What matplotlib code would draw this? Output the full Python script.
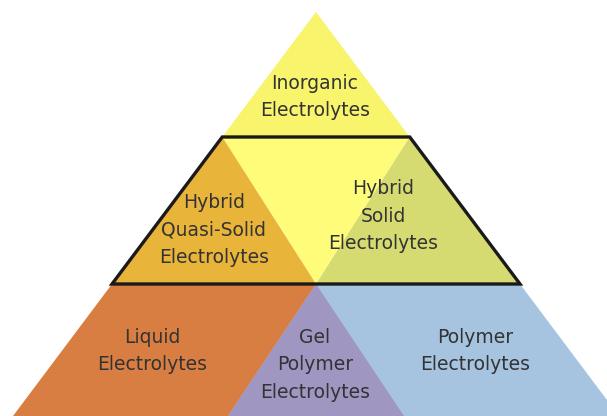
import matplotlib
matplotlib.use("Agg")
import matplotlib.pyplot as plt
from matplotlib.patches import Polygon

# ---- content ----
labels = {
    "top": ["Inorganic", "Electrolytes"],
    "hqs": ["Hybrid", "Quasi-Solid", "Electrolytes"],
    "hs": ["Hybrid", "Solid", "Electrolytes"],
    "liq": ["Liquid", "Electrolytes"],
    "gel": ["Gel", "Polymer", "Electrolytes"],
    "poly": ["Polymer", "Electrolytes"],
}
colors = {
    "top": "#F8F46C",
    "mid": "#FEFC78",
    "hqs": "#E8B43A",
    "hs": "#D5DB70",
    "liq": "#D87E42",
    "gel": "#A096C2",
    "poly": "#A6C4E0",
}

W, H = 607, 416
fig = plt.figure(figsize=(W / 100, H / 100), dpi=100)
ax = fig.add_axes([0, 0, 1, 1])
ax.set_xlim(0, W)
ax.set_ylim(H, 0)
ax.axis("off")

# geometry of the pyramid
apex = (316, 12)
slope = 0.75
y1, y2, yb = 137, 284, 416
def lx(y): return apex[0] - slope * (y - apex[1])
def rx(y): return apex[0] + slope * (y - apex[1])
c = (316, y2)
gl, gr = 228, 404  # gel triangle base

polys = [
    ("top", [apex, (lx(y1), y1), (rx(y1), y1)]),
    ("mid", [(lx(y1), y1), (rx(y1), y1), c]),
    ("hqs", [(lx(y1), y1), (lx(y2), y2), c]),
    ("hs", [(rx(y1), y1), (rx(y2), y2), c]),
    ("liq", [(lx(y2), y2), (lx(yb), yb), (gr, yb), c]),
    ("poly", [c, (rx(y2), y2), (rx(yb), yb), (gl, yb)]),
    ("gel", [c, (gl, yb), (gr, yb)]),
]
for key, pts in polys:
    ax.add_patch(Polygon(pts, closed=True, facecolor=colors[key], edgecolor="none"))

trap = [(lx(y1), y1), (rx(y1), y1), (rx(y2), y2), (lx(y2), y2)]
ax.add_patch(Polygon(trap, closed=True, facecolor="none", edgecolor="#1a1a1a",
                     linewidth=2.4, joinstyle="miter"))

pos = {
    "top": (315, 97),
    "hqs": (214, 230),
    "hs": (383, 216),
    "liq": (152, 351),
    "gel": (315, 365),
    "poly": (475, 351),
}
for key, lines in labels.items():
    x, y = pos[key]
    ax.text(x, y, "\n".join(lines), ha="center", va="center", fontsize=13.5,
            color="#333333", family="DejaVu Sans", linespacing=1.55)

fig.savefig("out.png", dpi=100)
